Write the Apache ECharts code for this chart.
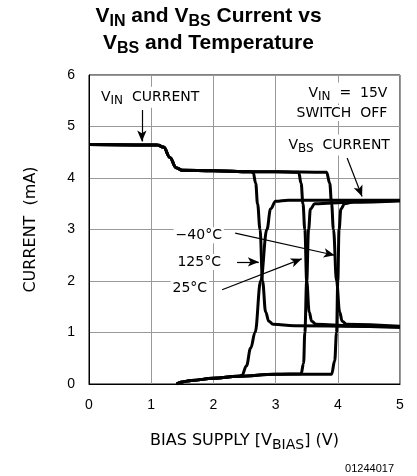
<!DOCTYPE html>
<html>
<head>
<meta charset="utf-8">
<script src="https://cdn.jsdelivr.net/npm/echarts@6/dist/echarts.min.js"></script>
<style>
  html, body { margin: 0; padding: 0; background: #fff; }
  #main { width: 417px; height: 476px; }
</style>
</head>
<body>
<div id="main"></div>
<script>
// tick values
const xTicks = [0, 1, 2, 3, 4, 5];
const yTicks = [0, 1, 2, 3, 4, 5, 6];

// V_IN current, shared part before the drop
const vinCommon = [[0, 4.65], [1.1, 4.64], [1.2, 4.6], [1.3, 4.4], [1.4, 4.2], [1.5, 4.15], [2.0, 4.14], [2.6, 4.12]];
const vin125 = [[2.64, 4.1], [2.68, 3.9], [2.71, 3.5], [2.75, 3.0], [2.79, 2.0], [2.84, 1.4], [2.89, 1.22], [2.96, 1.16], [3.3, 1.13], [5, 1.1]];
const vin25 = [[3.0, 4.12], [3.37, 4.11], [3.41, 3.9], [3.44, 3.5], [3.47, 3.0], [3.5, 2.0], [3.54, 1.4], [3.58, 1.22], [3.65, 1.16], [4.2, 1.13], [5, 1.1]];
const vinM40 = [[3.0, 4.12], [3.82, 4.11], [3.87, 3.9], [3.9, 3.5], [3.93, 3.0], [3.98, 2.0], [4.03, 1.4], [4.07, 1.22], [4.14, 1.16], [5, 1.12]];

// V_BS current, shared part before the rise
const vbsCommon = [[1.41, 0], [1.5, 0.04], [1.65, 0.07], [2.0, 0.11], [2.4, 0.15]];
const vbs125 = [[2.46, 0.17], [2.53, 0.35], [2.6, 0.7], [2.67, 1.0], [2.76, 2.0], [2.86, 3.0], [2.92, 3.4], [3.0, 3.55], [3.2, 3.57], [5, 3.57]];
const vbs25 = [[3.0, 0.19], [3.41, 0.2], [3.45, 0.4], [3.47, 1.0], [3.5, 2.0], [3.53, 3.0], [3.56, 3.4], [3.63, 3.5], [4.2, 3.53], [5, 3.56]];
const vbsM40 = [[3.0, 0.19], [3.9, 0.19], [3.95, 0.45], [3.98, 1.0], [4.0, 2.0], [4.02, 3.0], [4.05, 3.4], [4.11, 3.5], [4.3, 3.55], [5, 3.56]];

const chart = echarts.init(document.getElementById('main'));

const lineSeries = [
  vinCommon.concat(vin125), vinCommon.concat(vin25), vinCommon.concat(vinM40),
  vbsCommon.concat(vbs125), vbsCommon.concat(vbs25), vbsCommon.concat(vbsM40)
].map(d => ({
  type: 'line',
  data: d,
  showSymbol: false,
  smooth: 0.4,
  smoothMonotone: 'x',
  lineStyle: { color: '#000', width: 3 },
  z: 3
}));

const tick = { fontFamily: 'Liberation Sans', fontSize: 14, color: '#000' };
const rich = {
  n: { fontFamily: 'DejaVu Sans', fontSize: 14, color: '#000' },
  s: { fontFamily: 'DejaVu Sans', fontSize: 12, color: '#000', verticalAlign: 'bottom', padding: [7, 0, 0, 0] }
};
const richBig = {
  n: { fontFamily: 'DejaVu Sans', fontSize: 16, color: '#000' },
  s: { fontFamily: 'DejaVu Sans', fontSize: 14, color: '#000', verticalAlign: 'bottom', padding: [8, 0, 0, 0] }
};

function note(coord, text, pos) {
  return {
    coord: coord,
    symbol: 'circle',
    symbolSize: 0,
    label: {
      show: true,
      position: pos || 'right',
      distance: 0,
      formatter: text,
      backgroundColor: '#fff',
      padding: [1, 2],
      rich: rich
    }
  };
}

function arrow(a, b) {
  return [{ coord: a }, { coord: b }];
}

const annotations = {
  type: 'line',
  data: [],
  silent: true,
  markLine: {
    silent: true,
    symbol: ['none', 'arrow'],
    symbolSize: [7, 11],
    label: { show: false },
    lineStyle: { color: '#000', width: 1.2, type: 'solid' },
    data: [
      arrow([0.85, 5.32], [0.85, 4.71]),
      arrow([4.15, 4.39], [4.39, 3.64]),
      arrow([2.35, 2.93], [3.95, 2.5]),
      arrow([2.38, 2.37], [2.73, 2.37]),
      arrow([2.14, 1.83], [3.42, 2.43])
    ]
  },
  markPoint: {
    silent: true,
    data: [
      note([0.16, 5.57], '{n|V}{s|IN}{n|  CURRENT}'),
      note([4.83, 5.65], '{n|V}{s|IN}{n|  =  15V}', 'left'),
      note([4.83, 5.26], '{n|SWITCH  OFF}', 'left'),
      note([4.87, 4.64], '{n|V}{s|BS}{n|  CURRENT}', 'left'),
      note([1.36, 2.89], '{n|−40°C}'),
      note([1.39, 2.37], '{n|125°C}'),
      note([1.31, 1.86], '{n|25°C}')
    ]
  },
  z: 5
};

const option = {
  backgroundColor: '#fff',
  animation: false,
  title: {
    left: 'center',
    top: -2,
    text: '{b|V}{sb|IN}{b| and V}{sb|BS}{b| Current vs}\n{b|V}{sb|BS}{b| and Temperature}',
    textStyle: {
      lineHeight: 27,
      rich: {
        b: { fontFamily: 'Liberation Sans', fontWeight: 'bold', fontSize: 21, color: '#000', lineHeight: 27 },
        sb: { fontFamily: 'Liberation Sans', fontWeight: 'bold', fontSize: 16, color: '#000', lineHeight: 27, verticalAlign: 'bottom', padding: [9, 0, 0, 0] }
      }
    }
  },
  grid: {
    left: 89, right: 17, top: 75, bottom: 92,
    show: true, borderColor: '#000', borderWidth: 1
  },
  xAxis: {
    type: 'value',
    min: xTicks[0],
    max: xTicks[xTicks.length - 1],
    interval: 1,
    name: '{n|BIAS SUPPLY [V}{s|BIAS}{n|] (V)}',
    nameLocation: 'middle',
    nameGap: 46,
    nameTextStyle: { rich: richBig },
    axisLine: { lineStyle: { color: '#000' } },
    axisTick: { show: false },
    axisLabel: Object.assign({ margin: 14 }, tick),
    splitLine: { lineStyle: { color: '#999', width: 1 } }
  },
  yAxis: {
    type: 'value',
    min: yTicks[0],
    max: yTicks[yTicks.length - 1],
    interval: 1,
    name: 'CURRENT  (mA)',
    nameLocation: 'middle',
    nameGap: 50,
    nameTextStyle: { fontFamily: 'DejaVu Sans', fontSize: 16, color: '#000' },
    axisLine: { show: true, lineStyle: { color: '#000' } },
    axisTick: { show: false },
    axisLabel: Object.assign({ margin: 14 }, tick),
    splitLine: { lineStyle: { color: '#999', width: 1 } }
  },
  graphic: [{
    type: 'text',
    right: 23,
    top: 463,
    style: { text: '01244017', font: '11px Liberation Sans', fill: '#000' }
  }],
  series: lineSeries.concat([annotations])
};

chart.setOption(option);
</script>
</body>
</html>
